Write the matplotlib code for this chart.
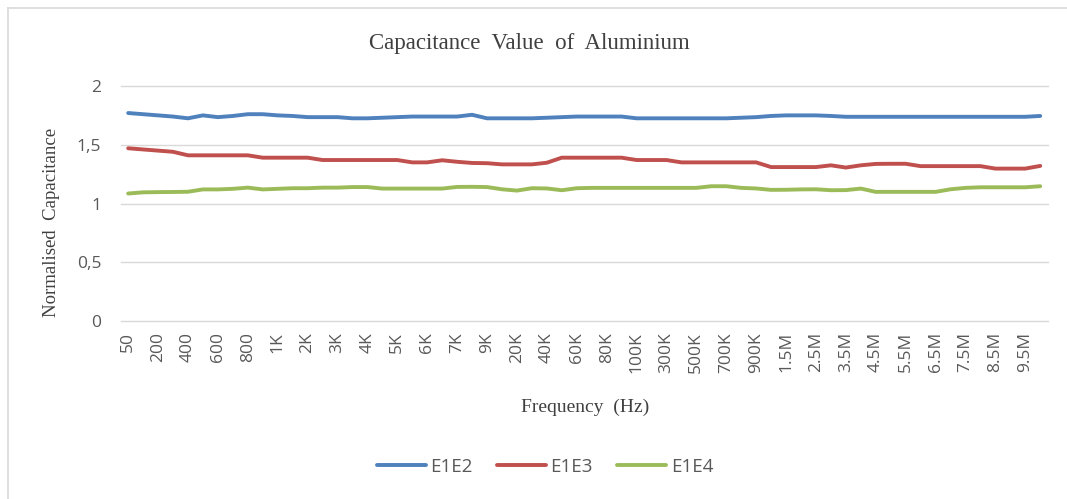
import matplotlib
matplotlib.use("Agg")
import matplotlib.pyplot as plt
from matplotlib.lines import Line2D

categories = ["50", "100", "200", "300", "400", "500", "600", "700", "800", "900",
              "1K", "1.5K", "2K", "2.5K", "3K", "3.5K", "4K", "4.5K", "5K", "5.5K",
              "6K", "6.5K", "7K", "8K", "9K", "10K", "20K", "30K", "40K", "50K",
              "60K", "70K", "80K", "90K", "100K", "200K", "300K", "400K", "500K", "600K",
              "700K", "800K", "900K", "1M", "1.5M", "2M", "2.5M", "3M", "3.5M", "4M",
              "4.5M", "5M", "5.5M", "6M", "6.5M", "7M", "7.5M", "8M", "8.5M", "9M",
              "9.5M", "10M"]

e1e2 = [1.77, 1.76, 1.75, 1.74, 1.725, 1.75, 1.735, 1.745, 1.76, 1.76,
        1.75, 1.745, 1.735, 1.735, 1.735, 1.725, 1.725, 1.73, 1.735, 1.74,
        1.74, 1.74, 1.74, 1.755, 1.725, 1.725, 1.725, 1.725, 1.73, 1.735,
        1.74, 1.74, 1.74, 1.74, 1.725, 1.725, 1.725, 1.725, 1.725, 1.725,
        1.725, 1.73, 1.735, 1.745, 1.75, 1.75, 1.75, 1.745, 1.738, 1.738,
        1.738, 1.738, 1.738, 1.738, 1.738, 1.738, 1.738, 1.738, 1.738, 1.738,
        1.738, 1.745]

e1e3 = [1.47, 1.46, 1.45, 1.44, 1.41, 1.41, 1.41, 1.41, 1.41, 1.39,
        1.39, 1.39, 1.39, 1.37, 1.37, 1.37, 1.37, 1.37, 1.37, 1.35,
        1.35, 1.368, 1.355, 1.345, 1.343, 1.333, 1.333, 1.333, 1.347, 1.39,
        1.39, 1.39, 1.39, 1.39, 1.37, 1.37, 1.37, 1.35, 1.35, 1.35,
        1.35, 1.35, 1.35, 1.31, 1.31, 1.31, 1.31, 1.325, 1.306, 1.325,
        1.337, 1.338, 1.338, 1.318, 1.318, 1.318, 1.318, 1.318, 1.297, 1.297,
        1.297, 1.32]

e1e4 = [1.085, 1.095, 1.097, 1.098, 1.10, 1.12, 1.12, 1.125, 1.135, 1.12,
        1.125, 1.13, 1.13, 1.135, 1.135, 1.14, 1.14, 1.127, 1.127, 1.127,
        1.127, 1.127, 1.141, 1.142, 1.14, 1.121, 1.11, 1.13, 1.128, 1.113,
        1.13, 1.133, 1.133, 1.133, 1.133, 1.133, 1.133, 1.133, 1.133, 1.147,
        1.147, 1.133, 1.128, 1.116, 1.117, 1.12, 1.121, 1.113, 1.114, 1.127,
        1.099, 1.099, 1.099, 1.099, 1.099, 1.121, 1.133, 1.138, 1.138, 1.138,
        1.138, 1.147]

series_names = ["E1E2", "E1E3", "E1E4"]
colors = ["#4F81BD", "#C0504D", "#9BBB59"]
yticks = [0, 0.5, 1, 1.5, 2]
ytick_labels = ["0", "0,5", "1", "1,5", "2"]

W, H = 1067, 499
fig = plt.figure(figsize=(W / 100, H / 100), dpi=100)
fig.patch.set_facecolor("white")

# outer chart border (top and left only visible)
fig.add_artist(Line2D([8 / W, 1], [1 - 8 / H, 1 - 8 / H], color="#D9D9D9", lw=1.2))
fig.add_artist(Line2D([8 / W, 8 / W], [0, 1 - 8 / H], color="#D9D9D9", lw=1.2))

left, right, top, bottom = 120.7, 1047.7, 86, 321
ax = fig.add_axes([left / W, 1 - bottom / H, (right - left) / W, (bottom - top) / H])

x = list(range(len(categories)))
for vals, name, c in zip([e1e2, e1e3, e1e4], series_names, colors):
    ax.plot(x, vals, color=c, lw=2.8, solid_capstyle="round", solid_joinstyle="round", label=name)

ax.set_xlim(-0.5, len(categories) - 0.5)
ax.set_ylim(0, 2)
ax.set_yticks(yticks)
ax.set_yticklabels(ytick_labels)
ax.set_xticks(x[::2])
ax.set_xticklabels(categories[::2], rotation=90)
ax.grid(axis="y", color="#D9D9D9", lw=1)
for gl in ax.get_ygridlines():
    gl.set_clip_on(False)
ax.set_axisbelow(True)
for s in ax.spines.values():
    s.set_visible(False)
ax.tick_params(axis="both", length=0, colors="#595959", labelsize=12.5)
ax.tick_params(axis="x", pad=8)
ax.tick_params(axis="y", pad=14)
for lab in ax.get_xticklabels() + ax.get_yticklabels():
    lab.set_fontfamily("Open Sans")
    lab.set_color("#595959")

fig.text(529 / W, 1 - 44 / H, "Capacitance  Value  of  Aluminium", ha="center", va="center",
         fontsize=16.5, family="Liberation Serif", color="#404040")
fig.text(52 / W, 1 - 222 / H, "Normalised  Capacitance", ha="center", va="center",
         rotation=90, fontsize=13.5, family="Liberation Serif", color="#404040")
fig.text(585 / W, 1 - 407 / H, "Frequency  (Hz)", ha="center", va="center",
         fontsize=14, family="Liberation Serif", color="#404040")

handles = [Line2D([0], [0], color=c, lw=2.8, solid_capstyle="round") for c in colors]
leg = fig.legend(handles, series_names, loc="center", bbox_to_anchor=(545 / W, 1 - 467 / H),
                 ncol=3, frameon=False, handlelength=2.6, handletextpad=0.25, columnspacing=1.3,
                 prop={"family": "Open Sans", "size": 13.5})
for t in leg.get_texts():
    t.set_color("#595959")

fig.savefig("out.png", dpi=100, facecolor="white")
